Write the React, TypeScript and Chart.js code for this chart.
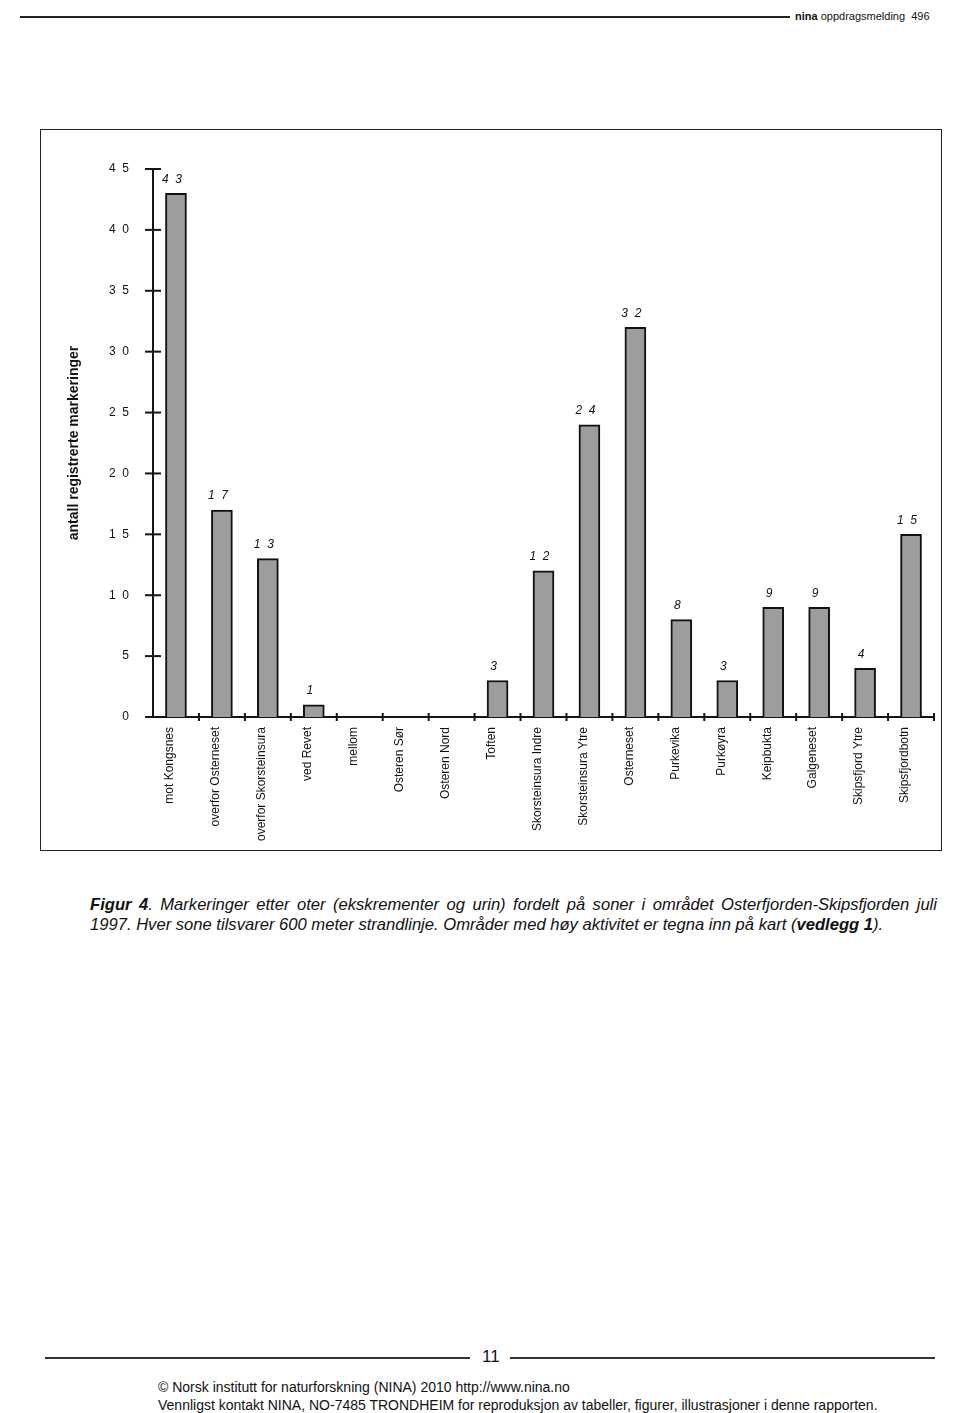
import React, { useEffect, useRef } from 'react';
import { Chart, registerables } from 'chart.js';

Chart.register(...registerables);

const categories = [
  'mot Kongsnes',
  'overfor Osterneset',
  'overfor Skorsteinsura',
  'ved Revet',
  'mellom',
  'Osteren Sør',
  'Osteren Nord',
  'Toften',
  'Skorsteinsura Indre',
  'Skorsteinsura Ytre',
  'Osterneset',
  'Purkevika',
  'Purkøyra',
  'Keipbukta',
  'Galgeneset',
  'Skipsfjord Ytre',
  'Skipsfjordbotn',
];
const markings = [43, 17, 13, 1, 0, 0, 0, 3, 12, 24, 32, 8, 3, 9, 9, 4, 15];
const yMin = 0;
const yMax = 45;
const yStep = 5;
const yTitle = 'antall registrerte markeringer';

const FONT = "'Liberation Sans', Arial, Helvetica, sans-serif";
const spaced = (v: number) => String(v).split('').join('  ');

const crossTicks = {
  id: 'crossTicks',
  afterDraw(chart: any) {
    const { ctx } = chart;
    const xs = chart.scales.x;
    const ys = chart.scales.y;
    ctx.save();
    ctx.strokeStyle = '#151515';
    ctx.lineWidth = 2;
    ys.ticks.forEach((t: any) => {
      const py = ys.getPixelForValue(t.value);
      ctx.beginPath();
      ctx.moveTo(xs.left - 8, py);
      ctx.lineTo(xs.left + 8, py);
      ctx.stroke();
    });
    for (let i = 1; i <= categories.length; i++) {
      const px = xs.getPixelForValue(i - 0.5);
      ctx.beginPath();
      ctx.moveTo(px, ys.bottom - 4);
      ctx.lineTo(px, ys.bottom + 4);
      ctx.stroke();
    }
    ctx.restore();
  },
};

const barLabels = {
  id: 'barLabels',
  afterDatasetsDraw(chart: any) {
    const { ctx } = chart;
    const meta = chart.getDatasetMeta(0);
    ctx.save();
    ctx.fillStyle = '#111';
    ctx.font = `italic 12px ${FONT}`;
    ctx.textAlign = 'center';
    ctx.textBaseline = 'middle';
    meta.data.forEach((bar: any, i: number) => {
      const v = markings[i];
      if (!v) return;
      ctx.fillText(spaced(v), bar.x - 4, bar.y - 14);
    });
    ctx.restore();
  },
};

function BarChart() {
  const ref = useRef<HTMLCanvasElement | null>(null);
  useEffect(() => {
    if (!ref.current) return;
    const chart = new Chart(ref.current, {
      type: 'bar',
      data: {
        labels: categories,
        datasets: [
          {
            data: markings,
            backgroundColor: '#9d9d9d',
            borderColor: '#111',
            borderWidth: 2,
            barThickness: 21,
          },
        ],
      },
      options: {
        animation: false,
        responsive: false,
        maintainAspectRatio: false,
        layout: { padding: { top: 38, right: 6, left: 0, bottom: 0 } },
        plugins: {
          legend: { display: false },
          tooltip: { enabled: false },
        },
        scales: {
          x: {
            grid: { display: false, drawTicks: false },
            border: { display: true, color: '#151515', width: 2 },
            ticks: {
              autoSkip: false,
              maxRotation: 90,
              minRotation: 90,
              padding: 10,
              labelOffset: -6,
              color: '#111',
              font: { family: FONT, size: 12 },
            },
            afterFit: (s: any) => {
              s.height = 132;
            },
          },
          y: {
            min: yMin,
            max: yMax,
            grid: { display: false, drawTicks: false },
            border: { display: true, color: '#151515', width: 2 },
            ticks: {
              stepSize: yStep,
              padding: 24,
              color: '#111',
              font: { family: FONT, size: 12 },
              callback: (v: any) => spaced(Number(v)),
            },
            title: {
              display: true,
              text: yTitle,
              color: '#111',
              font: { family: FONT, size: 14, weight: 'bold' },
              padding: { top: 24, bottom: 0 },
            },
            afterFit: (s: any) => {
              s.width = 111;
            },
          },
        },
      },
      plugins: [crossTicks, barLabels],
    });
    return () => chart.destroy();
  }, []);
  return <canvas ref={ref} width={898} height={718} style={{ display: 'block' }} />;
}

export default function App() {
  const text: React.CSSProperties = { position: 'absolute', fontFamily: FONT, color: '#111', whiteSpace: 'nowrap' };
  return (
    <div style={{ position: 'absolute', left: 0, top: 0, width: 960, height: 1413, background: '#fff', overflow: 'hidden' }}>
      {/* header */}
      <div style={{ position: 'absolute', left: 20, top: 16, width: 770, height: 2, background: '#222' }} />
      <div style={{ ...text, left: 795, top: 10, fontSize: 11 }}>
        <b>nina</b> oppdragsmelding&nbsp; 496
      </div>

      {/* chart frame */}
      <div
        style={{
          position: 'absolute',
          left: 40,
          top: 129,
          width: 902,
          height: 722,
          border: '1.5px solid #222',
          boxSizing: 'border-box',
        }}
      />
      <div style={{ position: 'absolute', left: 42, top: 131, width: 898, height: 718 }}>
        <BarChart />
      </div>

      {/* caption */}
      <div
        style={{
          ...text,
          left: 90,
          top: 895,
          width: 847,
          fontSize: 16.6,
          fontStyle: 'italic',
          textAlign: 'justify',
          textAlignLast: 'justify',
          whiteSpace: 'normal',
          lineHeight: '20px',
        }}
      >
        <b>Figur 4</b>. Markeringer etter oter (ekskrementer og urin) fordelt på soner i området Osterfjorden-Skipsfjorden juli
      </div>
      <div style={{ ...text, left: 90, top: 915, fontSize: 16.6, fontStyle: 'italic', lineHeight: '20px' }}>
        1997. Hver sone tilsvarer 600 meter strandlinje. Områder med høy aktivitet er tegna inn på kart (<b>vedlegg 1</b>).
      </div>

      {/* footer */}
      <div style={{ position: 'absolute', left: 45, top: 1357, width: 425, height: 1.5, background: '#333' }} />
      <div style={{ ...text, left: 482, top: 1347, fontSize: 17 }}>11</div>
      <div style={{ position: 'absolute', left: 510, top: 1357, width: 425, height: 1.5, background: '#333' }} />
      <div style={{ ...text, left: 158, top: 1379, fontSize: 14 }}>
        © Norsk institutt for naturforskning (NINA) 2010 http://www.nina.no
      </div>
      <div style={{ ...text, left: 158, top: 1397, fontSize: 14 }}>
        Vennligst kontakt NINA, NO-7485 TRONDHEIM for reproduksjon av tabeller, figurer, illustrasjoner i denne rapporten.
      </div>
    </div>
  );
}
